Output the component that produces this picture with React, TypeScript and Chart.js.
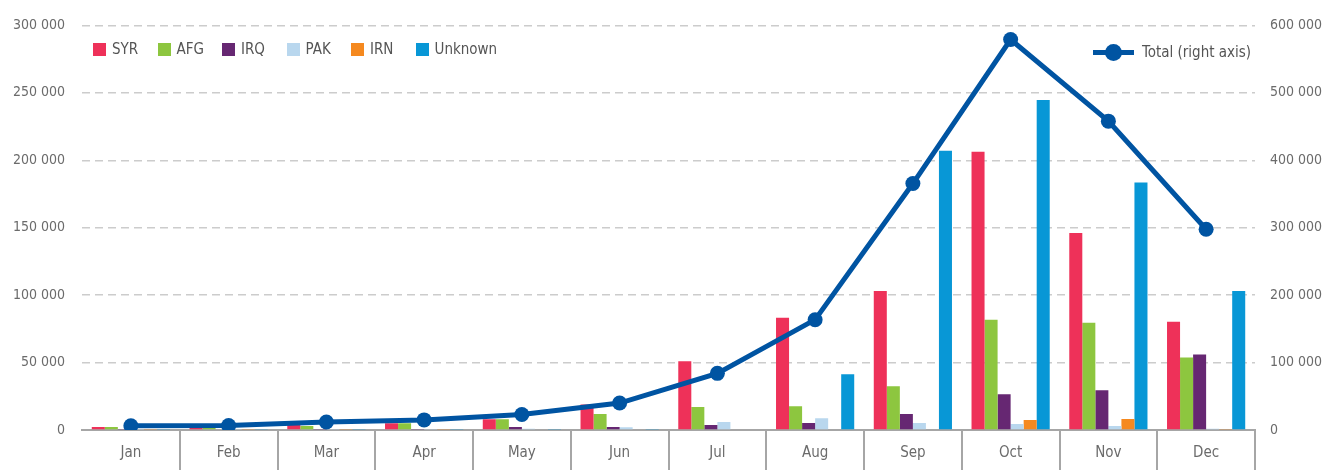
import React, { useEffect, useRef } from 'react';
import { Chart, registerables } from 'chart.js';

Chart.register(...registerables);

const months = ['Jan', 'Feb', 'Mar', 'Apr', 'May', 'Jun', 'Jul', 'Aug', 'Sep', 'Oct', 'Nov', 'Dec'];
const syr = [2200, 2200, 3700, 5000, 8000, 19000, 51000, 83300, 103000, 206400, 146000, 80300];
const afg = [2200, 2200, 3000, 5000, 8000, 11800, 17000, 17700, 32400, 81800, 79600, 53800];
const irq = [400, 600, 800, 800, 2200, 2200, 3700, 5200, 11800, 26500, 29500, 56000];
const pak = [300, 300, 300, 300, 1000, 2000, 6000, 8800, 5200, 4400, 3000, 1000];
const irn = [300, 300, 300, 300, 500, 500, 500, 500, 600, 7400, 8100, 800];
const unknown = [300, 300, 300, 300, 300, 300, 500, 41300, 207000, 244700, 183500, 103000];
const total = [6300, 6500, 11800, 15000, 23000, 40000, 84000, 163600, 365500, 579000, 458000, 297700];

const seriesNames = ['SYR', 'AFG', 'IRQ', 'PAK', 'IRN', 'Unknown'];
const seriesValues = [syr, afg, irq, pak, irn, unknown];
const seriesColors = ['#EE3159', '#8DC63F', '#662772', '#B9D7EE', '#F5891F', '#0897D6'];
const totalLabel = 'Total (right axis)';
const totalColor = '#0054A2';

const FONT = "'Liberation Sans Narrow', 'DejaVu Sans Condensed', 'Arial Narrow', sans-serif";

const fmt = (v: number) => String(v).replace(/\B(?=(\d{3})+(?!\d))/g, ' ');

export default function App() {
  const ref = useRef<HTMLCanvasElement | null>(null);

  useEffect(() => {
    document.body.style.margin = '0';
    const canvas = ref.current;
    if (!canvas) return;
    const chart = new Chart(canvas, {
      type: 'bar',
      data: {
        labels: months,
        datasets: [
          ...seriesNames.map((n, i) => ({
            type: 'bar' as const,
            label: n,
            data: seriesValues[i],
            backgroundColor: seriesColors[i],
            borderWidth: 0,
            yAxisID: 'y',
            categoryPercentage: 0.8,
            barPercentage: 1.0,
            order: 1,
          })),
          {
            type: 'line' as const,
            label: totalLabel,
            data: total,
            borderColor: totalColor,
            backgroundColor: totalColor,
            borderWidth: 5,
            pointRadius: 7.5,
            pointBorderWidth: 0,
            pointBackgroundColor: totalColor,
            tension: 0,
            yAxisID: 'y1',
            order: -1,
          },
        ],
      },
      options: {
        responsive: false,
        animation: false,
        layout: { padding: { top: 23, left: 0, right: 0, bottom: 0 } },
        plugins: { legend: { display: false }, tooltip: { enabled: false } },
        scales: {
          x: {
            afterFit: (s: any) => { s.height = 40; },
            grid: {
              offset: true,
              drawOnChartArea: false,
              drawTicks: true,
              tickLength: 40,
              lineWidth: 2,
              color: (ctx: any) => (ctx.index === 0 || ctx.index === months.length ? 'rgba(0,0,0,0)' : '#a6a6a6'),
            },
            border: { display: true, color: '#a6a6a6', width: 2 },
            ticks: { padding: -26, color: '#6b6b6b', font: { family: FONT, size: 15 }, maxRotation: 0 },
          },
          y: {
            position: 'left',
            min: 0,
            max: 300000,
            afterFit: (s: any) => { s.width = 82; },
            grid: {
              drawTicks: false,
              lineWidth: 1.5,
              color: (ctx: any) => (ctx.tick && ctx.tick.value === 0 ? 'rgba(0,0,0,0)' : '#cccccc'),
            },
            border: { display: false, dash: [8, 5] },
            ticks: { stepSize: 50000, padding: 17, color: '#6b6b6b', font: { family: FONT, size: 14 }, callback: (v: any) => fmt(Number(v)) },
          },
          y1: {
            position: 'right',
            min: 0,
            max: 600000,
            afterFit: (s: any) => { s.width = 71; },
            grid: { drawOnChartArea: false, drawTicks: false },
            border: { display: false },
            ticks: { stepSize: 100000, padding: 15, color: '#6b6b6b', font: { family: FONT, size: 14 }, callback: (v: any) => fmt(Number(v)) },
          },
        },
      },
    } as any);
    return () => chart.destroy();
  }, []);

  const legendText: React.CSSProperties = { fontFamily: FONT, fontSize: 15, color: '#555', lineHeight: '18px', whiteSpace: 'nowrap' };

  return (
    <div style={{ position: 'relative', width: 1326, height: 470 }}>
      <canvas ref={ref} width={1326} height={470} style={{ display: 'block' }} />
      <div style={{ position: 'absolute', left: 93, top: 40, display: 'flex' }}>
        {seriesNames.map((n, i) => (
          <div key={n} style={{ display: 'flex', alignItems: 'center', width: 64.5, flexShrink: 0 }}>
            <span style={{ display: 'inline-block', flexShrink: 0, width: 13, height: 13, background: seriesColors[i], marginRight: 6 }} />
            <span style={legendText}>{n}</span>
          </div>
        ))}
      </div>
      <div style={{ position: 'absolute', left: 1093, top: 43, display: 'flex', alignItems: 'center' }}>
        <span style={{ position: 'relative', display: 'inline-block', flexShrink: 0, width: 41, height: 17, marginRight: 8 }}>
          <span style={{ position: 'absolute', left: 0, top: 6, width: 41, height: 5, background: totalColor }} />
          <span style={{ position: 'absolute', left: 12, top: 0, width: 17, height: 17, borderRadius: '50%', background: totalColor }} />
        </span>
        <span style={legendText}>{totalLabel}</span>
      </div>
    </div>
  );
}
